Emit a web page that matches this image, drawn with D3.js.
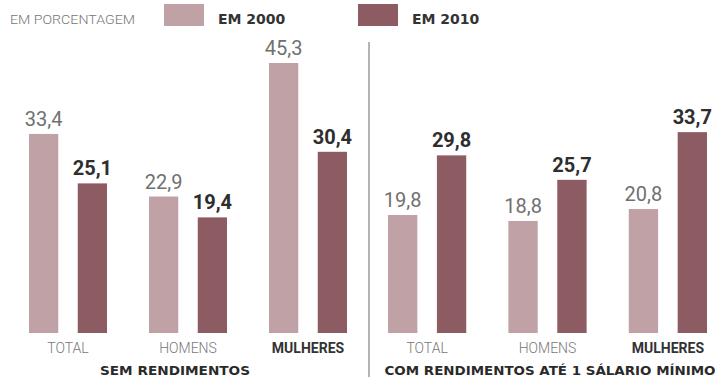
<!DOCTYPE html>
<html>
<head>
<meta charset="utf-8">
<script src="https://cdn.jsdelivr.net/npm/d3@7"></script>
<style>
  body { margin: 0; background: #fff; }
  svg { display: block; }
</style>
</head>
<body>
<svg width="720" height="377"></svg>
<script>
// data
var panels = ["SEM RENDIMENTOS", "COM RENDIMENTOS ATÉ 1 SÁLARIO MÍNIMO"];
var categories = ["TOTAL", "HOMENS", "MULHERES"];
var years = ["EM 2000", "EM 2010"];
var values2000 = [[33.4, 22.9, 45.3], [19.8, 18.8, 20.8]];
var values2010 = [[25.1, 19.4, 30.4], [29.8, 25.7, 33.7]];

var svg = d3.select("svg");
var colors = ["#c0a1a6", "#8d5c63"];

// vertical scale: 0 at bar base, 45.3 at the tallest bar top
var y = d3.scaleLinear().domain([0, 45.3]).range([333, 63]);

// one band scale per panel
var panelX = [[29, 347], [388, 707]];

var fmt = function(v) { return d3.format(".1f")(v).replace(".", ","); };

panels.forEach(function(p, pi) {
  var x0 = d3.scaleBand()
    .domain(categories)
    .range(panelX[pi])
    .paddingInner(0.35)
    .paddingOuter(0);
  var x1 = d3.scaleBand()
    .domain(years)
    .range([0, x0.bandwidth()])
    .paddingInner(0.4);

  var g = svg.append("g");
  categories.forEach(function(c, ci) {
    var vals = [values2000[pi][ci], values2010[pi][ci]];
    vals.forEach(function(v, yi) {
      var bx = x0(c) + x1(years[yi]);
      g.append("rect")
        .attr("x", bx)
        .attr("y", y(v))
        .attr("width", x1.bandwidth())
        .attr("height", y(0) - y(v))
        .attr("fill", colors[yi]);
      g.append("text")
        .attr("x", bx + x1.bandwidth() / 2)
        .attr("y", y(v) - 8)
        .attr("text-anchor", "middle")
        .attr("font-family", "Roboto")
        .attr("font-size", 20)
        .attr("font-weight", yi == 0 ? 400 : 700)
        .attr("fill", yi == 0 ? "#707070" : "#2e2e2e")
        .text(fmt(v));
    });
    g.append("text")
      .attr("x", x0(c) + x0.bandwidth() / 2)
      .attr("y", 353)
      .attr("text-anchor", "middle")
      .attr("font-family", "Roboto")
      .attr("font-size", 14)
      .attr("font-weight", c == "MULHERES" ? 700 : 300)
      .attr("fill", c == "MULHERES" ? "#333" : "#777")
      .text(c);
  });

  var titleW = [150, 331];
  svg.append("text")
    .attr("x", pi == 0 ? 175 : 550)
    .attr("y", 375)
    .attr("text-anchor", "middle")
    .attr("font-family", "DejaVu Sans")
    .attr("font-weight", "bold")
    .attr("font-size", 12)
    .attr("fill", "#2a2a2a")
    .attr("textLength", titleW[pi])
    .attr("lengthAdjust", "spacingAndGlyphs")
    .text(p);
});

// divider between panels
svg.append("line")
  .attr("x1", 369).attr("x2", 369)
  .attr("y1", 42).attr("y2", 377)
  .attr("stroke", "#9a9a9a")
  .attr("stroke-width", 1.5);

// legend
svg.append("text")
  .attr("x", 10).attr("y", 24)
  .attr("font-family", "Roboto")
  .attr("font-weight", 300)
  .attr("font-size", 12)
  .attr("fill", "#777")
  .attr("textLength", 125)
  .attr("lengthAdjust", "spacingAndGlyphs")
  .text("EM PORCENTAGEM");

var legendX = [164, 358];
years.forEach(function(yr, i) {
  svg.append("rect")
    .attr("x", legendX[i]).attr("y", 4)
    .attr("width", 40).attr("height", 22)
    .attr("fill", colors[i]);
  svg.append("text")
    .attr("x", legendX[i] + 54).attr("y", 24)
    .attr("font-family", "DejaVu Sans")
    .attr("font-weight", "bold")
    .attr("font-size", 14)
    .attr("fill", "#333")
    .text(yr);
});
</script>
</body>
</html>
